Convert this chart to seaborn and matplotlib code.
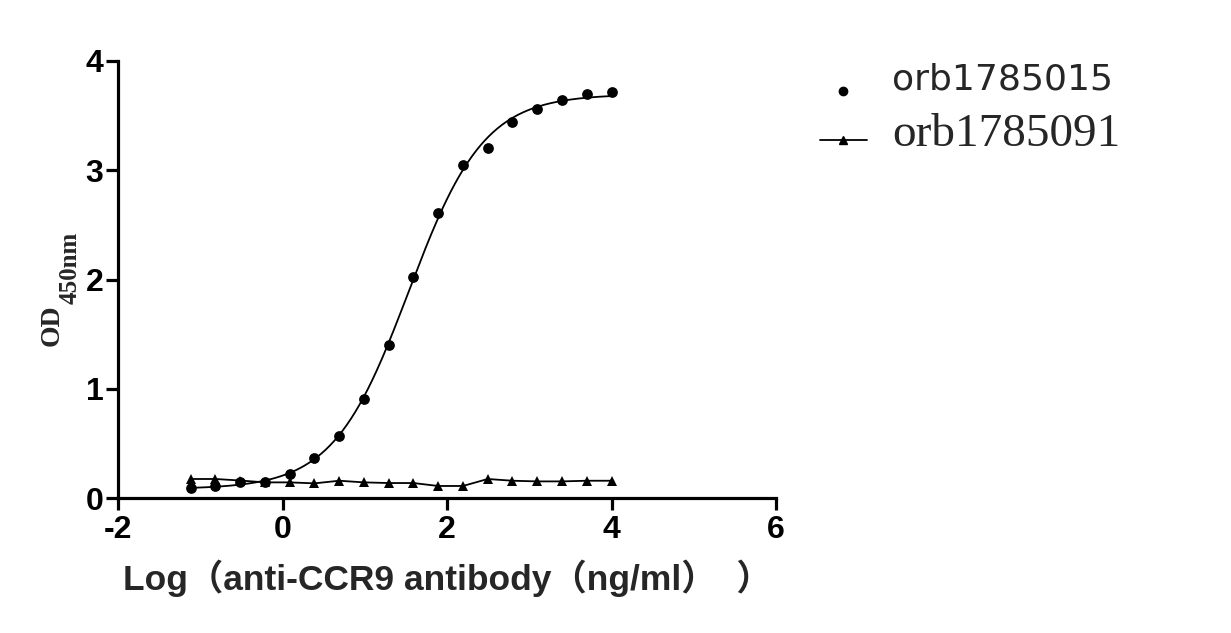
import numpy as np
import pandas as pd
import matplotlib
matplotlib.use("Agg")
import matplotlib.pyplot as plt
import seaborn as sns
from matplotlib.lines import Line2D
from matplotlib.legend_handler import HandlerLine2D
from matplotlib.font_manager import FontProperties

# ---- data ----
log_conc = [-1.117, -0.816, -0.515, -0.214, 0.087, 0.388, 0.689, 0.990, 1.291,
            1.592, 1.893, 2.194, 2.495, 2.796, 3.097, 3.398, 3.699, 4.000]
od_015 = [0.09, 0.107, 0.146, 0.15, 0.22, 0.37, 0.57, 0.905, 1.40,
          2.02, 2.61, 3.05, 3.20, 3.44, 3.56, 3.64, 3.70, 3.72]
od_091 = [0.174, 0.174, 0.16, 0.143, 0.143, 0.134, 0.158, 0.143, 0.137,
          0.137, 0.11, 0.11, 0.174, 0.158, 0.152, 0.152, 0.158, 0.158]
series_names = ["orb1785015", "orb1785091"]
x_ticks = [-2, 0, 2, 4, 6]
y_ticks = [0, 1, 2, 3, 4]
x_label = "Log（anti-CCR9 antibody（ng/ml）  ）"
y_label_main = "OD"
y_label_sub = "450nm"

# ---- 4PL fit (as in the original analysis) ----
xd = np.array(log_conc)
yd = np.array(od_015)

def fourpl(x, p):
    b, t, c, h = p
    return b + (t - b) / (1.0 + 10.0 ** ((c - x) * h))

p = np.array([0.1, 3.7, 1.5, 1.2])
lam = 1e-2
for _ in range(200):
    r = yd - fourpl(xd, p)
    J = np.zeros((len(xd), 4))
    for k in range(4):
        dp = np.zeros(4); dp[k] = 1e-6
        J[:, k] = (fourpl(xd, p + dp) - fourpl(xd, p - dp)) / 2e-6
    A = J.T @ J
    g = J.T @ r
    step = np.linalg.solve(A + lam * np.diag(np.diag(A)), g)
    pn = p + step
    if np.sum((yd - fourpl(xd, pn)) ** 2) < np.sum(r ** 2):
        p = pn; lam *= 0.5
    else:
        lam *= 3
x_fit = np.linspace(xd.min(), xd.max(), 300)
fit_df = pd.DataFrame({"x": x_fit, "y": fourpl(x_fit, p)})

df015 = pd.DataFrame({"x": log_conc, "y": od_015})
df091 = pd.DataFrame({"x": log_conc, "y": od_091})

# ---- style ----
sns.set_style("ticks")
plt.rcParams["font.family"] = ["Liberation Sans", "Noto Sans CJK SC", "DejaVu Sans"]

fig = plt.figure(figsize=(12.31, 6.33), dpi=100)
W, H = 1231, 633
ax = fig.add_axes([118 / W, 1 - 498 / H, (776 - 118) / W, (498 - 61) / H])

sns.lineplot(data=fit_df, x="x", y="y", ax=ax, color="black", lw=1.3)
sns.scatterplot(data=df015, x="x", y="y", ax=ax, color="black", s=60,
                marker="o", edgecolor="black", linewidth=0, zorder=5)
sns.lineplot(data=df091, x="x", y="y", ax=ax, color="black", lw=1.3,
             marker="^", markersize=7.5, markeredgewidth=0)

ax.set_xlim(-2, 6)
ax.set_ylim(0, 4)
ax.set_xticks(x_ticks)
ax.set_yticks(y_ticks)
ax.set_xticklabels([str(v) for v in x_ticks])
ax.set_yticklabels([str(v) for v in y_ticks])
for sp in ["top", "right"]:
    ax.spines[sp].set_visible(False)
for sp in ["left", "bottom"]:
    ax.spines[sp].set_linewidth(2.3)
    ax.spines[sp].set_color("black")
ax.tick_params(axis="both", direction="out", length=8.5, width=2.3, colors="black")
ax.tick_params(axis="y", pad=2)
ax.tick_params(axis="x", pad=4)
tickfont = FontProperties(family="Liberation Sans", weight="bold", size=23)
for lab in ax.get_xticklabels() + ax.get_yticklabels():
    lab.set_fontproperties(tickfont)

ax.set_xlabel(x_label, fontsize=25.5, fontweight="bold",
              family=["Liberation Sans", "Noto Sans CJK SC"], labelpad=10)
ax.set_ylabel("")

# y label: OD with subscript 450nm (rotated)
od = ax.text((40 - 118) / 658, (498 - 346) / 437, y_label_main, rotation=90,
             transform=ax.transAxes, ha="left", va="bottom",
             fontproperties=FontProperties(family="Liberation Serif",
                                           weight="bold", size=20))
ax.annotate(y_label_sub, xy=(1, 1), xycoords=od, xytext=(-4.5, 0),
            textcoords="offset points", ha="left", va="bottom", rotation=90,
            fontproperties=FontProperties(family="Liberation Serif",
                                          weight="bold", size=18))


class OffsetHandler(HandlerLine2D):
    def __init__(self, dy, **kw):
        super().__init__(**kw)
        self.dy = dy

    def create_artists(self, legend, orig_handle, xdescent, ydescent, width,
                       height, fontsize, trans):
        return super().create_artists(legend, orig_handle, xdescent,
                                      ydescent + self.dy, width, height,
                                      fontsize, trans)


handles = [
    Line2D([], [], ls="none", marker="o", color="black", markersize=6),
    Line2D([], [], ls="-", lw=1.3, marker="^", color="black", markersize=6),
]
leg = ax.legend(handles, series_names, loc="upper left",
                bbox_to_anchor=(820 / W, 1 - 62 / H), bbox_transform=fig.transFigure,
                frameon=False, handlelength=1.2, handletextpad=0.65,
                labelspacing=0.45, fontsize=28, borderpad=0, borderaxespad=0,
                handler_map={handles[0]: OffsetHandler(22),
                             handles[1]: OffsetHandler(10)})
texts = leg.get_texts()
texts[0].set_fontproperties(FontProperties(family="DejaVu Sans", size=26))
texts[1].set_fontproperties(FontProperties(family="Liberation Serif", size=34))

fig.savefig("out.png", dpi=100)
